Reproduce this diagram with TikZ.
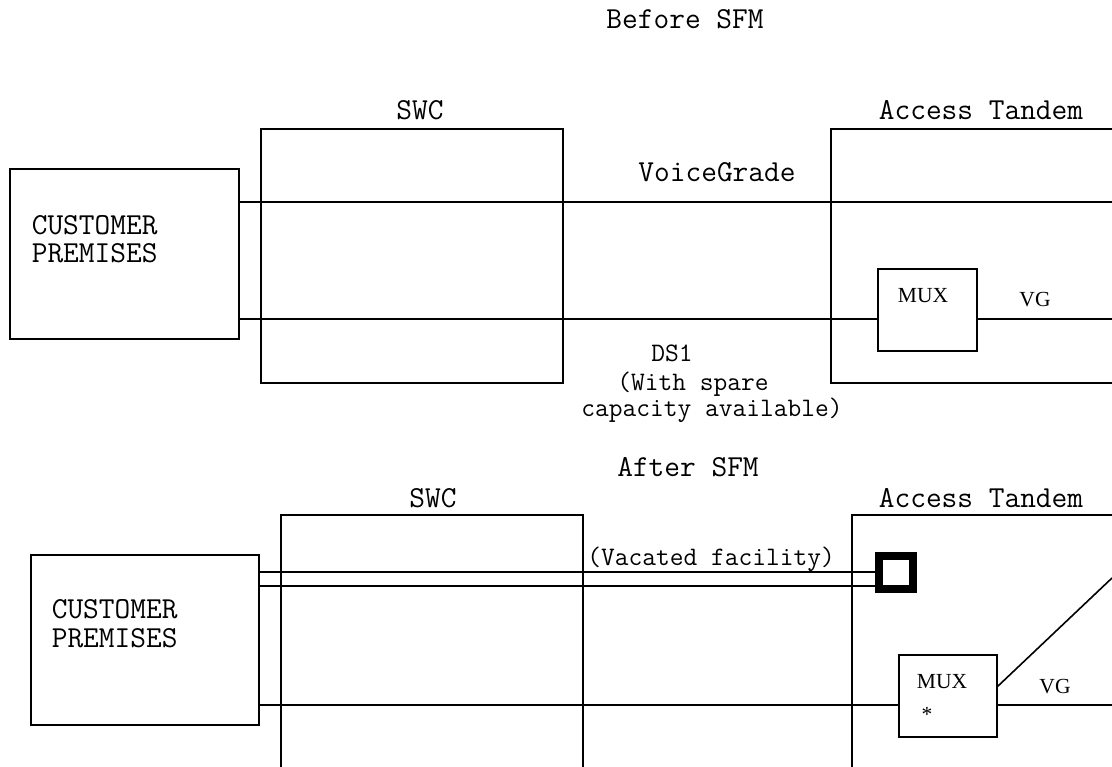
\documentclass[tikz,border=0pt]{standalone}
\usepackage{fontspec}
\newfontfamily\seriffont{Liberation Serif}
\usetikzlibrary{calc}
\begin{document}
\begin{tikzpicture}[x=1pt,y=-1pt,line width=1.6pt,
  box/.style={draw,rectangle,inner sep=0pt,outer sep=0pt},
  lbl/.style={inner sep=0pt,anchor=base,font=\ttfamily\fontsize{30.5}{33}\selectfont},
  lbll/.style={lbl,anchor=base west,text height=17pt,text depth=0pt},
  sml/.style={inner sep=0pt,anchor=base,font=\ttfamily\fontsize{26.7}{29}\selectfont},
  slbl/.style={inner sep=0pt,anchor=base,font=\seriffont\fontsize{21.5}{24}\selectfont},
  vacsq/.style={draw,rectangle,inner sep=0pt,outer sep=0pt,line width=8pt,minimum width=33.5pt,minimum height=33.5pt}]
\useasboundingbox (0,0) rectangle (1112,767);

% ---------- Before SFM ----------
\node[lbl] (before) at (685,29) {Before SFM};
\node[box,minimum width=229pt,minimum height=170pt] (cpA) at (124.5,254) {};
\node[box,minimum width=302pt,minimum height=254pt] (swcA) at (412,256) {};
\coordinate (atAtr) at (1112,129);
\coordinate (atAtl) at (831,129);
\coordinate (atAbl) at (831,383);
\coordinate (atAbr) at (1112,383);
\draw (atAtr) -- (atAtl) -- (atAbl) -- (atAbr);
\node[box,minimum width=99pt,minimum height=82pt] (muxA) at (927.5,310) {};

\node[lbl] (swcAl) at (420,120) {SWC};
\node[lbl] (atAl) at (981,120) {Access Tandem};
\node[lbl] (vgrade) at (717,182) {VoiceGrade};
\node[lbll] (cpA1) at (31,235) {CUSTOMER};
\node[lbll] (cpA2) at (31,263) {PREMISES};
\node[slbl] (muxAl) at (923,303) {MUX};
\node[slbl] (vgAl) at (1035,307) {VG};
\node[sml] (ds1) at (672,362) {DS1};
\node[sml] (ds2) at (693,391) {(With spare};
\node[sml] (ds3) at (712,417) {capacity available)};

\coordinate (vgEnd) at (1112,202);
\draw (cpA.east |- vgEnd) -- (vgEnd);
\coordinate (dsY) at (700,319);
\draw (cpA.east |- dsY) -- (muxA.west |- dsY);
\coordinate (vgAEnd) at (1112,319);
\draw (muxA.east |- vgAEnd) -- (vgAEnd);

% ---------- After SFM ----------
\node[lbl] (after) at (688,476) {After SFM};
\node[box,minimum width=228pt,minimum height=170pt] (cpB) at (145,640) {};
\coordinate (swcBbl) at (281,767);
\coordinate (swcBtl) at (281,515);
\coordinate (swcBtr) at (583,515);
\coordinate (swcBbr) at (583,767);
\draw (swcBbl) -- (swcBtl) -- (swcBtr) -- (swcBbr);
\coordinate (atBbl) at (852,767);
\coordinate (atBtl) at (852,515);
\coordinate (atBtr) at (1112,515);
\draw (atBbl) -- (atBtl) -- (atBtr);
\node[vacsq] (sq) at (896,572.5) {};
\node[box,minimum width=98pt,minimum height=82pt] (muxB) at (948,696) {};

\node[lbl] (swcBl) at (433,507) {SWC};
\node[lbl] (atBl) at (981,507) {Access Tandem};
\node[sml] (vac) at (711,565) {(Vacated facility)};
\node[lbll] (cpB1) at (51,618) {CUSTOMER};
\node[lbll] (cpB2) at (51,647) {PREMISES};
\node[slbl] (muxBl) at (942,688) {MUX};
\node[slbl] (star) at (927,721) {*};
\node[slbl] (vgBl) at (1055,693) {VG};

\coordinate (vacY1) at (600,572);
\coordinate (vacY2) at (600,586);
\draw (cpB.east |- vacY1) -- (sq.west |- vacY1);
\draw (cpB.east |- vacY2) -- (sq.west |- vacY2);
\coordinate (lnY) at (600,705);
\draw (cpB.east |- lnY) -- (muxB.west |- lnY);
\coordinate (vgBEnd) at (1112,705);
\draw (muxB.east |- vgBEnd) -- (vgBEnd);
\coordinate (diagEnd) at (1112,578);
\draw ($(muxB.east)+(0,-9)$) -- (diagEnd);
\end{tikzpicture}
\end{document}
